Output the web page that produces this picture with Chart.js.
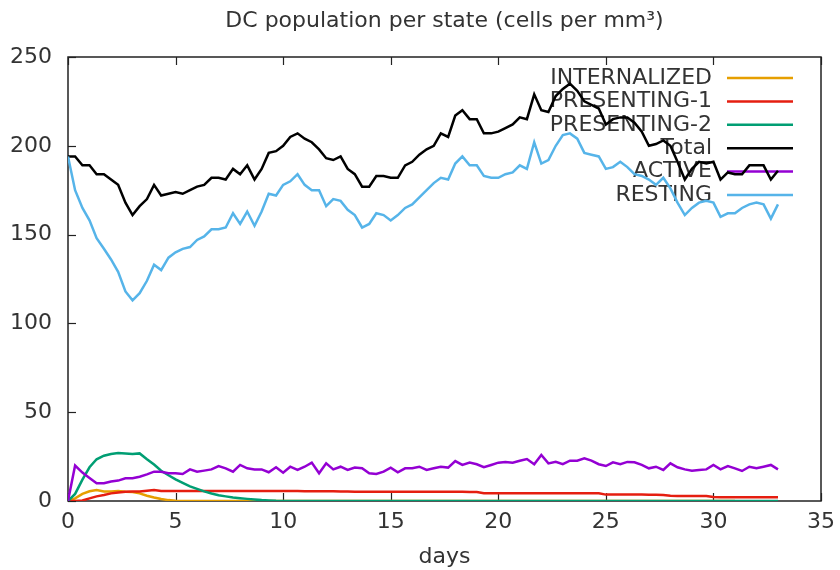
<!DOCTYPE html>
<html><head><meta charset="utf-8">
<script src="https://cdn.jsdelivr.net/npm/chart.js@4/dist/chart.umd.min.js"></script>
<style>html,body{margin:0;padding:0;background:#fff;}</style>
</head><body>
<canvas id="c" width="840" height="570" style="width:840px;height:570px;display:block"></canvas>
<script>
const titleText = "DC population per state (cells per mm\u00B3)";
const xLabel = "days";
const xTicks = [0,5,10,15,20,25,30,35];
const yTicks = [0,50,100,150,200,250];

const days = [0,0.33,0.67,1,1.33,1.67,2,2.33,2.67,3,3.33,3.67,4,4.33,4.67,5,5.33,5.67,6,6.33,6.67,7,7.33,7.67,8,8.33,8.67,9,9.33,9.67,10,10.33,10.67,11,11.33,11.67,12,12.33,12.67,13,13.33,13.67,14,14.33,14.67,15,15.33,15.67,16,16.33,16.67,17,17.33,17.67,18,18.33,18.67,19,19.33,19.67,20,20.33,20.67,21,21.33,21.67,22,22.33,22.67,23,23.33,23.67,24,24.33,24.67,25,25.33,25.67,26,26.33,26.67,27,27.33,27.67,28,28.33,28.67,29,29.33,29.67,30,30.33,30.67,31,31.33,31.67,32,32.33,32.67,33];

const internalized = [0,1.5,4,5.5,6.2,5.3,5.4,5.6,5.2,5,4.3,3,2,1.1,0.5,0.2,
0,0,0,0,0,0,0,0,0,0,0,0,0,0,0,0,0,0,0,0,0,0,0,0,0,0,0,0,0,0,0,0,0,0,0,0,0,0,0,0,0,0,0,0,0,0,0,0,0,0,0,0,0,0,0,0,0,0,0,0,0,0,0,0,0,0,0,0,0,0,0,0,0,0,0,0,0,0];

const presenting1 = [0,0,0.3,1.5,2.6,3.4,4.3,4.8,5.2,5.3,5.4,5.8,6.2,5.6,
5.6,5.6,5.7,5.6,5.6,5.6,5.6,5.7,5.6,5.6,5.6,5.6,5.6,5.6,5.6,5.6,5.6,5.6,5.6,5.5,5.5,5.5,5.5,5.5,5.4,5.4,
5.2,5.2,5.2,5.2,5.2,5.2,5.2,5.2,5.2,5.2,5.2,5.2,5.2,5.2,5.2,5.2,5.1,5.0,
4.4,4.4,4.4,4.4,4.4,4.4,4.4,4.4,4.4,4.4,4.4,4.4,4.4,4.4,4.4,4.3,4.3,
3.6,3.6,3.6,3.6,3.6,3.6,3.5,3.5,3.4,
2.9,2.8,2.8,2.8,2.8,2.8,
2.2,2.1,2.1,2.1,2.1,2.1,2.1,2.1,2.1,2.1];

const presenting2 = [0,4,12,19,23.5,25.5,26.5,27,26.8,26.5,26.8,23.5,20.5,17,14.5,12.2,10.2,8.2,6.8,5.4,4.2,3.2,2.6,2,1.6,1.2,0.8,0.5,0.3,0.1,
0,0,0,0,0,0,0,0,0,0,0,0,0,0,0,0,0,0,0,0,0,0,0,0,0,0,0,0,0,0,0,0,0,0,0,0,0,0,0,0,0,0,0,0,0,0,0,0,0,0,0,0,0,0,0,0,0,0,0,0,0,0,0,0,0,0,0,0,0,0];

const total = [194,194,189,189,184,184,181,178,168,161,
166,170,178,172,173,174,173,175,177,178,
182,182,181,187,184,189,181,187,196,197,
200,205,207,204,202,198,193,192,194,187,
184,177,177,183,183,182,182,189,191,195,
198,200,207,205,217,220,215,215,207,207,
208,210,212,216,215,229,220,219,228,232,
235,231,225,223,221,212,215,216,216,213,
208,200,201,203,200,191,181,187,191,190,
191,181,185,184,184,189,189,189,181,186];

const active = [0,20,16,13,10,10,11,11.5,12.8,12.8,
13.7,15,16.5,16.5,15.6,15.6,15.2,17.8,16.5,17.1,
17.8,19.7,18.4,16.5,20.3,18.4,17.8,17.8,16.2,19,
15.9,19.3,17.5,19.3,21.6,15.6,21.2,17.8,19.3,17.5,
18.8,18.4,15.6,15.2,16.5,18.8,16.2,18.4,18.4,19.3,
17.5,18.4,19.3,18.8,22.5,20.3,21.6,20.7,19,20.3,
21.6,22,21.6,22.7,23.6,20.7,25.9,21.2,22.1,20.7,
22.7,22.7,24,22.7,20.7,19.7,21.8,20.7,22,21.8,
20.3,18.4,19.3,17.5,21.2,19,17.8,17.1,17.5,17.8,
20.3,17.8,19.7,18.4,16.9,19.3,18.4,19.3,20.3,17.8];

const resting = [194,175,165,158,148,142,136,129,118,113,
117,124,133,130,137,140,142,143,147,149,
153,153,154,162,156,163,155,163,173,172,
178,180,184,178,175,175,166,170,169,164,
161,154,156,162,161,158,161,165,167,171,
175,179,182,181,190,194,189,189,183,182,
182,184,185,189,187,202,190,192,200,206,
207,204,196,195,194,187,188,191,188,184,
183,181,178,182,176,168,161,165,168,169,
168,160,162,162,165,167,168,167,159,167];

const seriesNames = ["INTERNALIZED","PRESENTING-1","PRESENTING-2","Total","ACTIVE","RESTING"];
const seriesData = [internalized, presenting1, presenting2, total, active, resting];
const seriesColors = ["#E69F00","#E51E10","#009E73","#000000","#9400D3","#56B4E9"];

const FONT = "'DejaVu Sans', sans-serif";
const TEXT = "#333333";

const toXY = arr => arr.map((v,i) => ({x: days[i], y: v}));

const gnuplotDeco = {
  id: 'gnuplotDeco',
  beforeDatasetsDraw(chart) {
    const ctx = chart.ctx, a = chart.chartArea;
    const xs = chart.scales.x, ys = chart.scales.y;
    ctx.save();
    // border
    ctx.strokeStyle = '#222';
    ctx.lineWidth = 1.5;
    ctx.strokeRect(a.left, a.top, a.right - a.left, a.bottom - a.top);
    // ticks
    ctx.lineWidth = 1.2;
    xTicks.forEach(t => {
      const px = Math.round(xs.getPixelForValue(t)) + 0.5;
      ctx.beginPath();
      ctx.moveTo(px, a.bottom); ctx.lineTo(px, a.bottom - 8);
      ctx.moveTo(px, a.top); ctx.lineTo(px, a.top + 8);
      ctx.stroke();
    });
    yTicks.forEach(t => {
      const py = Math.round(ys.getPixelForValue(t)) + 0.5;
      ctx.beginPath();
      ctx.moveTo(a.left, py); ctx.lineTo(a.left + 8, py);
      ctx.stroke();
    });
    // key
    ctx.font = '22px ' + FONT;
    ctx.textAlign = 'right';
    ctx.textBaseline = 'middle';
    seriesNames.forEach((name, k) => {
      const y = 78 + k * 23.4;
      ctx.fillStyle = TEXT;
      ctx.fillText(name, 712, y);
      ctx.strokeStyle = seriesColors[k];
      ctx.lineWidth = 2.5;
      ctx.beginPath();
      ctx.moveTo(727, y); ctx.lineTo(793, y);
      ctx.stroke();
    });
    ctx.restore();
  },
  afterDraw(chart) {
    const ctx = chart.ctx, a = chart.chartArea;
    ctx.save();
    ctx.font = '22px ' + FONT;
    ctx.fillStyle = TEXT;
    ctx.textAlign = 'center';
    ctx.textBaseline = 'middle';
    ctx.fillText(titleText, (a.left + a.right) / 2, 21);
    ctx.restore();
  }
};

new Chart(document.getElementById('c'), {
  type: 'line',
  data: {
    datasets: seriesNames.map((name, k) => ({
      label: name,
      data: toXY(seriesData[k]),
      borderColor: seriesColors[k],
      backgroundColor: seriesColors[k],
      borderWidth: 2.5,
      pointRadius: 0,
      tension: 0,
      fill: false,
      order: seriesNames.length - k
    }))
  },
  options: {
    responsive: false,
    animation: false,
    devicePixelRatio: 1,
    layout: { padding: { top: 57, right: 19, left: 0, bottom: 0 } },
    plugins: { legend: { display: false }, title: { display: false }, tooltip: { enabled: false } },
    scales: {
      x: {
        type: 'linear', min: 0, max: 35,
        afterBuildTicks: s => { s.ticks = xTicks.map(v => ({ value: v })); },
        afterFit: s => { s.height = 69; s.paddingLeft = 0; s.paddingRight = 0; },
        ticks: { font: { family: FONT, size: 22 }, color: TEXT, padding: 8, maxRotation: 0 },
        grid: { display: false, drawTicks: false },
        border: { display: false },
        title: { display: true, text: xLabel, font: { family: FONT, size: 22 }, color: TEXT, padding: { top: 7, bottom: 0 } }
      },
      y: {
        type: 'linear', min: 0, max: 250,
        afterBuildTicks: s => { s.ticks = yTicks.map(v => ({ value: v })); },
        afterFit: s => { s.width = 68; s.paddingTop = 0; s.paddingBottom = 0; },
        ticks: { font: { family: FONT, size: 22 }, color: TEXT, padding: 16 },
        grid: { display: false, drawTicks: false },
        border: { display: false }
      }
    }
  },
  plugins: [gnuplotDeco]
});
</script>
</body></html>
